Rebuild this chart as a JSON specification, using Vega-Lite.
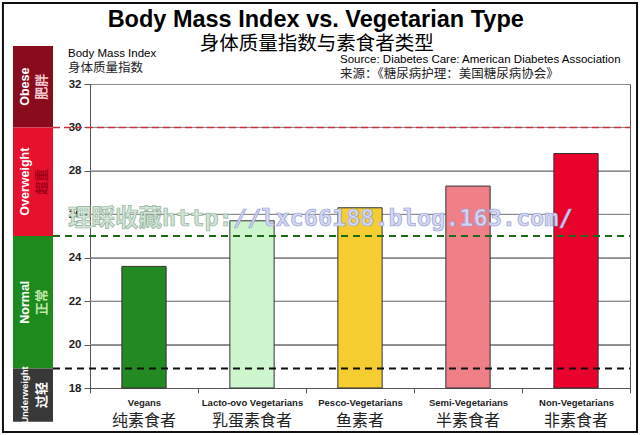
{
  "$schema": "https://vega.github.io/schema/vega-lite/v6.json",
  "autosize": "none",
  "width": 540,
  "height": 304,
  "padding": {"left": 90, "top": 84, "right": 10, "bottom": 47},
  "background": "white",
  "config": {
    "view": {"stroke": "#555", "strokeWidth": 1},
    "font": "Liberation Sans"
  },
  "datasets": {
    "bmi": [
      {"type": "Vegans", "bmi": 23.6},
      {"type": "Lacto-ovo Vegetarians", "bmi": 25.7},
      {"type": "Pesco-Vegetarians", "bmi": 26.3},
      {"type": "Semi-Vegetarians", "bmi": 27.3},
      {"type": "Non-Vegetarians", "bmi": 28.8}
    ],
    "bands": [
      {"cat": "Obese", "zh": "肥胖", "lo": 30, "hi": 33.75},
      {"cat": "Overweight", "zh": "超重", "lo": 25, "hi": 30},
      {"cat": "Normal", "zh": "正常", "lo": 18.9, "hi": 25},
      {"cat": "Underweight", "zh": "过轻", "lo": 16.45, "hi": 18.9}
    ],
    "gridValues": [{"g": 20}, {"g": 22}, {"g": 24}, {"g": 26}, {"g": 28}, {"g": 30}]
  },
  "layer": [
    {
      "layer": [
        {
          "data": {"values": [{}]},
          "mark": {"type": "rect", "fillOpacity": 0, "stroke": "#111", "strokeWidth": 2},
          "encoding": {
            "x": {"datum": -0.806, "type": "quantitative", "scale": {"domain": [0, 5], "nice": false, "zero": false}, "axis": null},
            "x2": {"datum": 5.065},
            "y": {"datum": 35.73, "type": "quantitative"},
            "y2": {"datum": 15.97}
          }
        },
        {
          "data": {"name": "bands"},
          "mark": {"type": "rect"},
          "encoding": {
            "x": {"datum": -0.713, "type": "quantitative", "axis": null},
            "x2": {"datum": -0.3426},
            "y": {"field": "hi", "type": "quantitative"},
            "y2": {"field": "lo"},
            "fill": {"field": "cat", "type": "nominal", "scale": {"domain": ["Obese", "Overweight", "Normal", "Underweight"], "range": ["#8a0a1e", "#e8112d", "#1c8a1c", "#383838"]}, "legend": null}
          }
        },
        {
          "data": {"name": "bands"},
          "transform": [{"calculate": "(datum.lo + datum.hi) / 2", "as": "mid"}],
          "mark": {"type": "text", "angle": 270, "align": "center", "baseline": "middle", "fontWeight": "bold", "fill": "white", "font": "Liberation Sans"},
          "encoding": {
            "x": {"datum": -0.602, "type": "quantitative", "axis": null},
            "y": {"field": "mid", "type": "quantitative"},
            "text": {"field": "cat"},
            "size": {"condition": {"test": "datum.cat == 'Underweight'", "value": 9.5}, "value": 12.5}
          }
        },
        {
          "data": {"name": "bands"},
          "transform": [{"calculate": "(datum.lo + datum.hi) / 2", "as": "mid"}],
          "mark": {"type": "text", "angle": 270, "align": "center", "baseline": "middle", "fontWeight": "bold", "fontSize": 13, "font": "Noto Sans CJK SC"},
          "encoding": {
            "x": {"datum": -0.444, "type": "quantitative", "axis": null},
            "y": {"field": "mid", "type": "quantitative"},
            "text": {"field": "zh"},
            "fill": {"field": "cat", "type": "nominal", "scale": {"domain": ["Obese", "Overweight", "Normal", "Underweight"], "range": ["#f4c8ce", "#a00018", "#bfe8a8", "#ffffff"]}, "legend": null}
          }
        }
      ],
      "resolve": {"scale": {"fill": "independent"}}
    },
    {
      "data": {"name": "bmi"},
      "layer": [
        {
          "data": {"name": "gridValues"},
          "mark": {"type": "rule", "color": "#8c8c8c", "strokeWidth": 1},
          "encoding": {
            "y": {"field": "g", "type": "quantitative"}
          }
        },
        {
          "mark": {"type": "bar", "width": {"band": 0.41}, "stroke": "#333", "strokeWidth": 1},
          "encoding": {
            "x": {
              "field": "type", "type": "nominal", "sort": null,
              "scale": {"paddingInner": 0, "paddingOuter": 0},
              "axis": {
                "orient": "bottom", "title": null, "tickBand": "extent", "tickSize": 5,
                "tickColor": "#555", "domainColor": "#555", "labelAngle": 0,
                "labelFont": "Liberation Sans", "labelFontSize": 9.5,
                "labelFontWeight": "bold", "labelColor": "#222", "labelPadding": 4, "grid": false
              }
            },
            "y": {
              "field": "bmi", "type": "quantitative",
              "scale": {"domain": [18, 32], "nice": false, "zero": false},
              "axis": {
                "values": [18, 20, 22, 24, 26, 28, 30, 32], "grid": true, "gridColor": "#8c8c8c",
                "gridWidth": 1, "tickSize": 6, "tickColor": "#555", "domainColor": "#555",
                "labelFont": "Liberation Sans", "labelFontSize": 11.5, "labelFontWeight": "bold",
                "labelColor": "#222", "labelPadding": 3, "title": null
              }
            },
            "y2": {"datum": 18},
            "fill": {
              "field": "type", "type": "nominal",
              "scale": {
                "domain": ["Vegans", "Lacto-ovo Vegetarians", "Pesco-Vegetarians", "Semi-Vegetarians", "Non-Vegetarians"],
                "range": ["#238a23", "#cdf6cc", "#f6cd30", "#f08088", "#e8022c"]
              },
              "legend": null
            }
          }
        },
        {
          "mark": {"type": "text", "text": ""},
          "encoding": {
            "x": {
              "field": "type", "type": "nominal", "sort": null,
              "axis": {
                "orient": "bottom", "title": null, "domain": false, "ticks": false, "tickSize": 0,
                "labelAngle": 0, "labelFont": "Noto Sans CJK SC", "labelFontSize": 16,
                "labelColor": "#222", "labelPadding": 24, "grid": false,
                "labelExpr": "datum.value == 'Vegans' ? '纯素食者' : datum.value == 'Lacto-ovo Vegetarians' ? '乳蛋素食者' : datum.value == 'Pesco-Vegetarians' ? '鱼素者' : datum.value == 'Semi-Vegetarians' ? '半素食者' : '非素食者'"
              }
            }
          }
        }
      ],
      "resolve": {"axis": {"x": "independent"}}
    },
    {
      "layer": [
        {
          "data": {"values": [{}]},
          "mark": {"type": "rule", "color": "#c8323c", "strokeWidth": 1.5, "strokeDash": [7, 4]},
          "encoding": {
            "x": {"datum": -0.3426, "type": "quantitative", "scale": {"domain": [0, 5], "nice": false, "zero": false}, "axis": null},
            "x2": {"datum": 5},
            "y": {"datum": 30, "type": "quantitative"}
          }
        },
        {
          "data": {"values": [{}]},
          "mark": {"type": "rule", "color": "#1a6a1a", "strokeWidth": 2, "strokeDash": [7, 5]},
          "encoding": {
            "x": {"datum": -0.3426, "type": "quantitative", "axis": null},
            "x2": {"datum": 5},
            "y": {"datum": 25, "type": "quantitative"}
          }
        },
        {
          "data": {"values": [{}]},
          "mark": {"type": "rule", "color": "#111", "strokeWidth": 2, "strokeDash": [7, 5]},
          "encoding": {
            "x": {"datum": -0.3426, "type": "quantitative", "axis": null},
            "x2": {"datum": 5},
            "y": {"datum": 18.9, "type": "quantitative"}
          }
        },
        {
          "data": {"values": [{}]},
          "mark": {"type": "text", "text": "理睬收藏http:", "font": "'DejaVu Sans Mono', 'Noto Sans CJK SC'", "fontSize": 23.5, "fontWeight": "bold", "align": "left", "baseline": "alphabetic", "fill": "#d2e4d6", "stroke": "#8fb39a", "strokeWidth": 0.7},
          "encoding": {
            "x": {"datum": -0.2037, "type": "quantitative", "axis": null},
            "y": {"datum": 25.46, "type": "quantitative"}
          }
        },
        {
          "data": {"values": [{}]},
          "mark": {"type": "text", "text": "//lxc66188.blog.163.com/", "font": "'DejaVu Sans Mono', 'Noto Sans CJK SC'", "fontSize": 23.5, "fontWeight": "bold", "align": "left", "baseline": "alphabetic", "fill": "#d4d8f2", "stroke": "#98a1d6", "strokeWidth": 0.7},
          "encoding": {
            "x": {"datum": 1.324, "type": "quantitative", "axis": null},
            "y": {"datum": 25.46, "type": "quantitative"}
          }
        },
        {
          "data": {"values": [{}]},
          "mark": {"type": "text", "text": "Body Mass Index vs. Vegetarian Type", "font": "Liberation Sans", "fontSize": 23.5, "fontWeight": "bold", "align": "center", "baseline": "alphabetic", "fill": "#000"},
          "encoding": {
            "x": {"datum": 2.09, "type": "quantitative", "axis": null},
            "y": {"datum": 34.62, "type": "quantitative"}
          }
        },
        {
          "data": {"values": [{}]},
          "mark": {"type": "text", "text": "身体质量指数与素食者类型", "font": "Noto Sans CJK SC", "fontSize": 19.5, "align": "center", "baseline": "alphabetic", "fill": "#000"},
          "encoding": {
            "x": {"datum": 2.1, "type": "quantitative", "axis": null},
            "y": {"datum": 33.56, "type": "quantitative"}
          }
        },
        {
          "data": {"values": [{}]},
          "mark": {"type": "text", "text": "Source: Diabetes Care: American Diabetes Association", "font": "Liberation Sans", "fontSize": 11.5, "align": "left", "baseline": "alphabetic", "fill": "#000"},
          "encoding": {
            "x": {"datum": 2.3148, "type": "quantitative", "axis": null},
            "y": {"datum": 32.99, "type": "quantitative"}
          }
        },
        {
          "data": {"values": [{}]},
          "mark": {"type": "text", "text": "来源：《糖尿病护理：美国糖尿病协会》", "font": "Noto Sans CJK SC", "fontSize": 12.5, "align": "left", "baseline": "alphabetic", "fill": "#222"},
          "encoding": {
            "x": {"datum": 2.3148, "type": "quantitative", "axis": null},
            "y": {"datum": 32.27, "type": "quantitative"}
          }
        },
        {
          "data": {"values": [{}]},
          "mark": {"type": "text", "text": "Body Mass Index", "font": "Liberation Sans", "fontSize": 11.5, "align": "left", "baseline": "alphabetic", "fill": "#000"},
          "encoding": {
            "x": {"datum": -0.2037, "type": "quantitative", "axis": null},
            "y": {"datum": 33.26, "type": "quantitative"}
          }
        },
        {
          "data": {"values": [{}]},
          "mark": {"type": "text", "text": "身体质量指数", "font": "Noto Sans CJK SC", "fontSize": 12.5, "align": "left", "baseline": "alphabetic", "fill": "#222"},
          "encoding": {
            "x": {"datum": -0.2037, "type": "quantitative", "axis": null},
            "y": {"datum": 32.55, "type": "quantitative"}
          }
        }
      ]
    }
  ],
  "resolve": {"scale": {"x": "independent", "fill": "independent"}, "axis": {"x": "independent"}}
}
